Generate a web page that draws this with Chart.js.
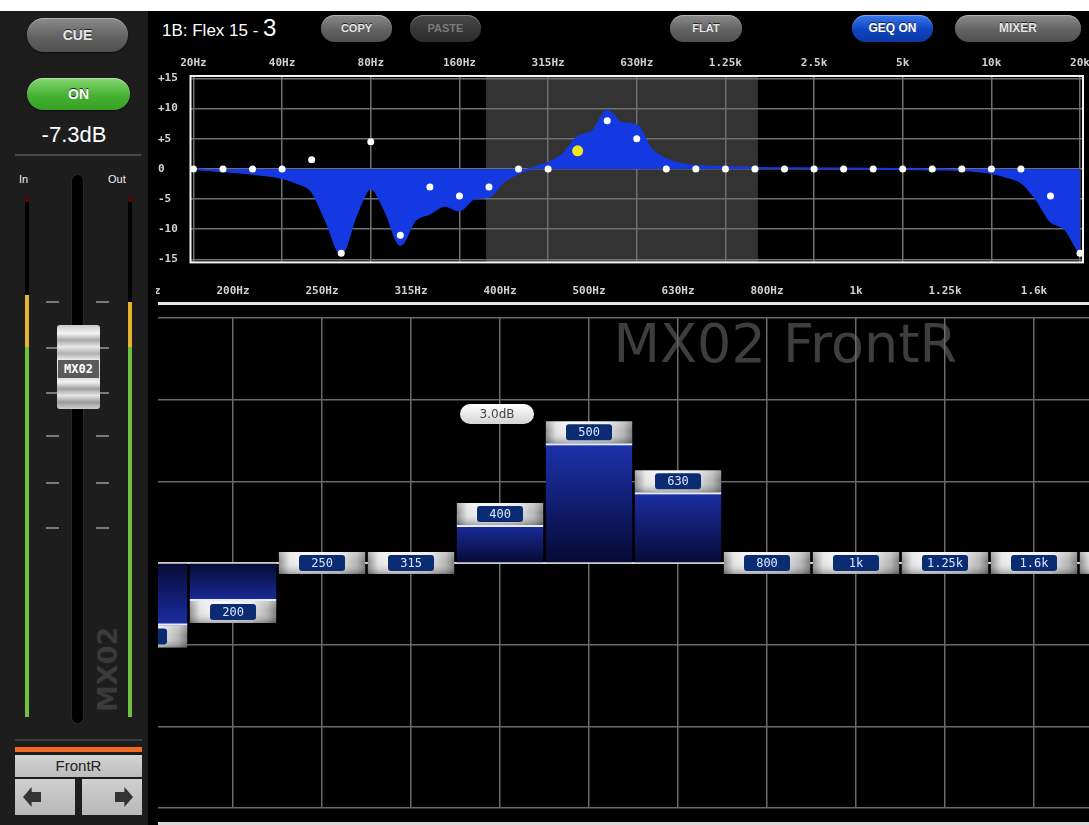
<!DOCTYPE html>
<html>
<head>
<meta charset="utf-8">
<script src="https://cdn.jsdelivr.net/npm/chart.js@4.4.1/dist/chart.umd.min.js"></script>
<style>
html, body { margin: 0; padding: 0; background: #000; }
body { width: 1089px; height: 825px; position: relative; overflow: hidden; font-family: "Liberation Sans", Arial, sans-serif; }
.abs { position: absolute; }
#topstrip { left: 0; top: 0; width: 1089px; height: 11px; background: #fff; z-index: 3; }
#side { left: 0; top: 11px; width: 148px; height: 814px; background: #1d1d1d; z-index: 2; }
#gap { left: 148px; top: 11px; width: 8px; height: 814px; background: #000; z-index: 2; }
.btn { position: absolute; text-align: center; font-weight: bold; color: #e6e6e6; text-shadow: 0 -1px 0 #222;
       box-shadow: inset 0 1px 0 rgba(255,255,255,0.35), 0 1px 2px rgba(0,0,0,0.6); }
.gray { background: linear-gradient(#8c8c8c, #626262 55%, #505050); }
.dark { background: linear-gradient(#4c4c4c, #363636 55%, #2c2c2c); color: #7a7a7a; text-shadow: none; }
.green { background: linear-gradient(#86d872, #45b232 55%, #36a024); color: #fff; }
.blue { background: linear-gradient(#3a7af0, #0f44c0 55%, #0b38a4); color: #fff; }
.top-btn { top: 15px; height: 27px; line-height: 27px; border-radius: 14px; font-size: 11px; }
.tick { position: absolute; height: 2px; width: 13px; background: #7a7a7a; }
canvas { position: absolute; }
</style>
</head>
<body>
<div id="topstrip" class="abs"></div>
<div id="gap" class="abs"></div>

<div id="side" class="abs">
  <div class="btn gray" style="left:27px;top:7px;width:101px;height:34px;line-height:34px;border-radius:17px;font-size:14px;">CUE</div>
  <div class="btn green" style="left:27px;top:67px;width:103px;height:32px;line-height:32px;border-radius:16px;font-size:14px;">ON</div>
  <div class="abs" style="left:0;top:111px;width:148px;text-align:center;color:#fff;font-size:22px;">-7.3dB</div>
  <div class="abs" style="left:15px;top:143px;width:126px;height:2px;background:#4a4a4a;"></div>
  <div class="abs" style="left:19px;top:162px;color:#eee;font-size:11px;">In</div>
  <div class="abs" style="left:108px;top:162px;color:#eee;font-size:11px;">Out</div>

  <!-- meters -->
  <div class="abs" style="left:24px;top:185px;width:6px;height:6px;border-radius:3px;background:#4a0a0a;"></div>
  <div class="abs" style="left:25px;top:191px;width:4px;height:515px;background:#000;"></div>
  <div class="abs" style="left:25px;top:284px;width:4px;height:52px;background:#e3b52e;"></div>
  <div class="abs" style="left:25px;top:336px;width:4px;height:370px;background:#6fc23c;"></div>
  <div class="abs" style="left:127px;top:185px;width:6px;height:6px;border-radius:3px;background:#4a0a0a;"></div>
  <div class="abs" style="left:128px;top:191px;width:4px;height:515px;background:#000;"></div>
  <div class="abs" style="left:128px;top:291px;width:4px;height:45px;background:#e3b52e;"></div>
  <div class="abs" style="left:128px;top:336px;width:4px;height:370px;background:#6fc23c;"></div>

  <!-- fader slot and ticks -->
  <div class="abs" style="left:72px;top:164px;width:11px;height:548px;border-radius:6px;background:#000;box-shadow:0 0 2px #444;"></div>
  <div class="tick" style="left:46px;top:290px;"></div><div class="tick" style="left:96px;top:290px;"></div>
  <div class="tick" style="left:46px;top:336px;"></div><div class="tick" style="left:96px;top:336px;"></div>
  <div class="tick" style="left:46px;top:381px;"></div><div class="tick" style="left:96px;top:381px;"></div>
  <div class="tick" style="left:46px;top:424px;"></div><div class="tick" style="left:96px;top:424px;"></div>
  <div class="tick" style="left:46px;top:471px;"></div><div class="tick" style="left:96px;top:471px;"></div>
  <div class="tick" style="left:46px;top:516px;"></div><div class="tick" style="left:96px;top:516px;"></div>

  <!-- fader knob -->
  <div class="abs" style="left:57px;top:314px;width:43px;height:84px;border-radius:3px;
       background:linear-gradient(#c8c8c8,#f4f4f4 10%,#a8a8a8 18%,#e8e8e8 26%,#b0b0b0 34%,#f0f0f0 42%,#cfcfcf 60%,#f2f2f2 68%,#a0a0a0 76%,#e6e6e6 84%,#9a9a9a 92%,#d0d0d0);"></div>
  <div class="abs" style="left:58px;top:349px;width:41px;height:18px;background:#5a5a5a;color:#fff;font:bold 12px 'DejaVu Sans Mono';line-height:18px;text-align:center;">MX02</div>

  <div class="abs" style="left:66px;top:644px;width:84px;height:30px;transform:rotate(-90deg);color:#3a3a3a;font:bold 27px 'DejaVu Sans';text-align:center;line-height:30px;">MX02</div>

  <div class="abs" style="left:15px;top:728px;width:127px;height:2px;background:#3c3c3c;"></div>
  <div class="abs" style="left:15px;top:736px;width:127px;height:5px;background:#f06a22;"></div>
  <div class="abs" style="left:15px;top:744px;width:127px;height:22px;background:linear-gradient(#d4d4d4,#bcbcbc);color:#222;font-size:15px;line-height:22px;text-align:center;">FrontR</div>
  <div class="abs" style="left:15px;top:768px;width:60px;height:36px;background:linear-gradient(#d0d0d0,#b8b8b8);"></div>
  <div class="abs" style="left:82px;top:768px;width:60px;height:36px;background:linear-gradient(#d0d0d0,#b8b8b8);"></div>
  <div class="abs" style="left:23px;top:776px;width:18px;height:20px;background:#333;clip-path:polygon(0 50%,48% 0,48% 25%,100% 25%,100% 75%,48% 75%,48% 100%);"></div>
  <div class="abs" style="left:115px;top:776px;width:18px;height:20px;background:#333;clip-path:polygon(100% 50%,52% 0,52% 25%,0 25%,0 75%,52% 75%,52% 100%);"></div>
</div>

<!-- header bar -->
<div class="abs" style="left:162px;top:14px;color:#fff;font-size:17px;white-space:nowrap;">1B: Flex 15 - <span style="font-size:24px;">3</span></div>
<div class="btn gray top-btn" style="left:321px;width:71px;">COPY</div>
<div class="btn dark top-btn" style="left:410px;width:71px;">PASTE</div>
<div class="btn gray top-btn" style="left:670px;width:72px;">FLAT</div>
<div class="btn blue top-btn" style="left:852px;width:81px;font-size:12px;">GEQ ON</div>
<div class="btn gray top-btn" style="left:955px;width:126px;font-size:12px;">MIXER</div>

<canvas id="geqOverview" width="946" height="221" style="left:150px;top:52px;width:946px;height:221px;"></canvas>
<canvas id="geqDetail" width="1089" height="545" style="left:0;top:280px;width:1089px;height:545px;z-index:1;"></canvas>

<script>
// 31 band graphic EQ, 1/3 octave
const bandLabels = ['20', '25', '31.5', '40', '50', '63', '80', '100', '125', '160', '200', '250', '315', '400', '500', '630',
  '800', '1k', '1.25k', '1.6k', '2k', '2.5k', '3.15k', '4k', '5k', '6.3k', '8k', '10k', '12.5k', '16k', '20k'];
const bandGains = [0, 0, 0, 0, 1.5, -14, 4.5, -11, -3, -4.5, -3, 0, 0, 3, 8, 5,
  0, 0, 0, 0, 0, 0, 0, 0, 0, 0, 0, 0, 0, -4.5, -14];

// response curve (band index -> dB)
const responseBands = [0, 1, 2, 3, 3.5, 4, 4.5, 5, 5.5, 6, 6.5, 7, 7.5, 8, 8.5, 9, 9.5, 10, 10.5, 11, 11.5, 12, 12.5,
  13, 13.5, 14, 14.5, 15, 15.5, 16, 16.5, 17, 18, 19, 20, 24, 25, 26, 27, 27.5, 28, 28.5, 29, 29.5, 30];
const responseGain = [0, -0.4, -0.8, -1.5, -2.3, -3.7, -8.8, -14.1, -7.7, -3.2, -7.1, -12.6, -8.5, -7.4, -6.1, -6.9, -4.9, -4.6, -2.1, -0.7, 0.2, 1, 2.4,
  5.3, 6.2, 9.7, 7.6, 7.2, 3.2, 1.6, 0.8, 0.5, 0.3, 0.2, 0.1, 0, -0.1, -0.2, -0.7, -1.3, -2.2, -4.9, -8.7, -10, -14.3];

const overviewTickBands = [0, 3, 6, 9, 12, 15, 18, 21, 24, 27, 30];
const overviewTicks = ['20Hz', '40Hz', '80Hz', '160Hz', '315Hz', '630Hz', '1.25k', '2.5k', '5k', '10k', '20k'];
const dbTicks = [-15, -10, -5, 0, 5, 10, 15];
const detailTickBands = [9, 10, 11, 12, 13, 14, 15, 16, 17, 18, 19];

const selectedBand = 13;
const viewRange = [9.9, 19.1];        // highlighted part of overview
const detailWindow = [9.157, 19.618]; // bands visible in the fader view
const channelName = 'MX02';
const channelLabel = 'FrontR';

const tickFont = { family: 'DejaVu Sans Mono', size: 11, weight: 'bold' };

function roundRect(ctx, x, y, w, h, r) {
  ctx.beginPath();
  ctx.moveTo(x + r, y);
  ctx.arcTo(x + w, y, x + w, y + h, r);
  ctx.arcTo(x + w, y + h, x, y + h, r);
  ctx.arcTo(x, y + h, x, y, r);
  ctx.arcTo(x, y, x + w, y, r);
  ctx.closePath();
}

const overviewDecor = {
  id: 'overviewDecor',
  beforeDraw(chart) {
    const { ctx, chartArea, scales } = chart;
    const x0 = scales.x.getPixelForValue(viewRange[0]);
    const x1 = scales.x.getPixelForValue(viewRange[1]);
    ctx.save();
    ctx.fillStyle = 'rgba(255,255,255,0.2)';
    ctx.fillRect(x0, chartArea.top, x1 - x0, chartArea.bottom - chartArea.top);
    ctx.restore();
  },
  afterDraw(chart) {
    const { ctx, chartArea } = chart;
    ctx.save();
    ctx.strokeStyle = '#f4f4f4';
    ctx.lineWidth = 2;
    ctx.strokeRect(chartArea.left, chartArea.top, chartArea.right - chartArea.left, chartArea.bottom - chartArea.top);
    ctx.restore();
  }
};

const overviewChart = new Chart(document.getElementById('geqOverview'), {
  type: 'line',
  data: {
    datasets: [
      {
        label: 'response',
        data: responseBands.map((b, i) => ({ x: b, y: responseGain[i] })),
        fill: 'origin',
        backgroundColor: '#1439e2',
        borderColor: '#1439e2',
        borderWidth: 2,
        pointRadius: 0,
        cubicInterpolationMode: 'monotone',
        order: 1
      },
      {
        label: 'bands',
        type: 'scatter',
        data: bandGains.map((g, i) => ({ x: i, y: g })),
        pointRadius: (c) => c.dataIndex === selectedBand ? 5.5 : 3.5,
        pointBackgroundColor: (c) => c.dataIndex === selectedBand ? '#f2e61c' : '#ffffff',
        pointBorderWidth: 0,
        order: 0
      }
    ]
  },
  options: {
    responsive: false,
    animation: false,
    events: [],
    layout: { padding: { left: 8, right: 6, top: 0, bottom: 0 } },
    plugins: { legend: { display: false }, tooltip: { enabled: false } },
    scales: {
      x: {
        type: 'linear', position: 'top', min: -0.1, max: 30.1,
        afterBuildTicks: (s) => { s.ticks = overviewTickBands.map(v => ({ value: v })); },
        afterFit: (s) => { s.height = 24; },
        ticks: { padding: 6, color: '#d2d2d2', font: tickFont, maxRotation: 0,
          callback: (v) => overviewTicks[overviewTickBands.indexOf(v)] },
        grid: { color: '#707070', lineWidth: 1.5, drawTicks: false },
        border: { display: false }
      },
      y: {
        min: -15.5, max: 15.4,
        afterBuildTicks: (s) => { s.ticks = dbTicks.map(v => ({ value: v })); },
        afterFit: (s) => { s.width = 32.5; },
        ticks: { crossAlign: 'far', padding: 4, color: '#d2d2d2', font: tickFont,
          callback: (v) => v > 0 ? '+' + v : String(v) },
        grid: { color: '#707070', lineWidth: 1.5, drawTicks: false },
        border: { display: false }
      }
    }
  },
  plugins: [overviewDecor]
});

function barGradient(c) {
  const chart = c.chart;
  const { chartArea, scales } = chart;
  if (!chartArea) return '#1e33b5';
  const g = bandGains[c.dataIndex];
  const y0 = scales.y.getPixelForValue(0);
  const y1 = scales.y.getPixelForValue(g);
  if (y0 === y1) return 'rgba(0,0,0,0)';
  const grad = chart.ctx.createLinearGradient(0, y0, 0, y1);
  grad.addColorStop(0, '#060a34');
  grad.addColorStop(1, '#1f35b8');
  return grad;
}

function drawKnob(ctx, cx, cy, w, label, dir) {
  const h = 22, x = cx - w / 2, y = cy - h / 2;
  const gh = ctx.createLinearGradient(x, 0, x + w, 0);
  gh.addColorStop(0, '#8e8e8e');
  gh.addColorStop(0.12, '#e4e4e4');
  gh.addColorStop(0.3, '#f6f6f6');
  gh.addColorStop(0.7, '#e6e6e6');
  gh.addColorStop(0.9, '#b4b4b4');
  gh.addColorStop(1, '#7c7c7c');
  ctx.fillStyle = gh;
  ctx.fillRect(x, y, w, h);
  const gv = ctx.createLinearGradient(0, y, 0, y + h);
  gv.addColorStop(0, 'rgba(255,255,255,0.3)');
  gv.addColorStop(0.45, 'rgba(255,255,255,0)');
  gv.addColorStop(1, 'rgba(0,0,0,0.3)');
  ctx.fillStyle = gv;
  ctx.fillRect(x, y, w, h);
  if (dir !== 0) {
    ctx.fillStyle = '#e6ecf8';
    ctx.fillRect(x, dir > 0 ? y + h : y - 2, w, 2);
  }
  ctx.fillStyle = '#0b2c72';
  roundRect(ctx, cx - 23, cy - 8, 46, 16, 3);
  ctx.fill();
  ctx.fillStyle = '#dce6ff';
  ctx.font = '12px "DejaVu Sans Mono"';
  ctx.textAlign = 'center';
  ctx.textBaseline = 'middle';
  ctx.fillText(label, cx, cy + 1);
}

const detailDecor = {
  id: 'detailDecor',
  beforeDraw(chart) {
    const { ctx, chartArea } = chart;
    ctx.save();
    ctx.font = '54px "DejaVu Sans"';
    ctx.fillStyle = '#3e3e3e';
    ctx.textAlign = 'right';
    ctx.textBaseline = 'alphabetic';
    ctx.fillText(channelName + ' ' + channelLabel, chartArea.right - 132, chartArea.top + 44);
    ctx.restore();
  },
  beforeDatasetsDraw(chart) {
    const { ctx, chartArea, scales } = chart;
    const y0 = scales.y.getPixelForValue(0);
    ctx.save();
    ctx.fillStyle = '#d0d0d0';
    ctx.fillRect(chartArea.left, y0 - 1, chartArea.right - chartArea.left, 2);
    ctx.restore();
  },
  afterDatasetsDraw(chart) {
    const { ctx, chartArea, scales } = chart;
    const meta = chart.getDatasetMeta(0);
    ctx.save();
    ctx.beginPath();
    ctx.rect(chartArea.left, chartArea.top, chartArea.right - chartArea.left, chartArea.bottom - chartArea.top);
    ctx.clip();
    bandGains.forEach((g, i) => {
      const bar = meta.data[i];
      const cx = scales.x.getPixelForValue(i);
      const w = bar.width;
      if (cx + w / 2 < chartArea.left || cx - w / 2 > chartArea.right) return;
      drawKnob(ctx, cx, scales.y.getPixelForValue(g), w, bandLabels[i], Math.sign(g));
    });
    ctx.restore();

    // value bubble of the selected band
    const sx = scales.x.getPixelForValue(selectedBand) - 3;
    const sy = scales.y.getPixelForValue(bandGains[selectedBand]) - 100;
    ctx.save();
    const gb = ctx.createLinearGradient(0, sy - 10, 0, sy + 10);
    gb.addColorStop(0, '#ffffff');
    gb.addColorStop(1, '#d4d4d4');
    ctx.fillStyle = gb;
    roundRect(ctx, sx - 37, sy - 10, 74, 20, 10);
    ctx.fill();
    ctx.fillStyle = '#444';
    ctx.font = '12px "DejaVu Sans"';
    ctx.textAlign = 'center';
    ctx.textBaseline = 'middle';
    ctx.fillText(bandGains[selectedBand].toFixed(1) + 'dB', sx, sy + 1);
    ctx.restore();
  },
  afterDraw(chart) {
    const { ctx, chartArea } = chart;
    ctx.save();
    ctx.fillStyle = '#e4e4e4';
    ctx.fillRect(chartArea.left, chartArea.top - 16, chartArea.right - chartArea.left, 3);
    ctx.fillStyle = '#d8d8d8';
    ctx.fillRect(chartArea.left, chartArea.bottom + 14, chartArea.right - chartArea.left, 3);
    ctx.restore();
  }
};

const detailChart = new Chart(document.getElementById('geqDetail'), {
  type: 'bar',
  data: {
    datasets: [{
      label: 'gain',
      data: bandGains.map((g, i) => ({ x: i, y: g })),
      backgroundColor: barGradient,
      borderWidth: 0,
      barPercentage: 0.97,
      categoryPercentage: 1
    }]
  },
  options: {
    responsive: false,
    animation: false,
    events: [],
    layout: { padding: { left: 158, right: 0, top: 0, bottom: 17 } },
    plugins: { legend: { display: false }, tooltip: { enabled: false } },
    scales: {
      x: {
        type: 'linear', position: 'top', offset: false,
        min: detailWindow[0], max: detailWindow[1],
        afterBuildTicks: (s) => { s.ticks = detailTickBands.map(v => ({ value: v })); },
        afterFit: (s) => { s.height = 38; },
        ticks: { padding: 20, color: '#d2d2d2', font: tickFont, maxRotation: 0, autoSkip: false,
          callback: (v) => bandLabels[v] + (bandLabels[v].endsWith('k') ? '' : 'Hz') },
        grid: { color: '#6a6a6a', lineWidth: 1.5, drawTicks: false, offset: false },
        border: { display: false }
      },
      y: {
        min: -15, max: 15,
        afterBuildTicks: (s) => { s.ticks = dbTicks.map(v => ({ value: v })); },
        afterFit: (s) => { s.width = 0; },
        ticks: { display: false },
        grid: { color: '#6a6a6a', lineWidth: 1.5, drawTicks: false },
        border: { display: false }
      }
    }
  },
  plugins: [detailDecor]
});
</script>
</body>
</html>
